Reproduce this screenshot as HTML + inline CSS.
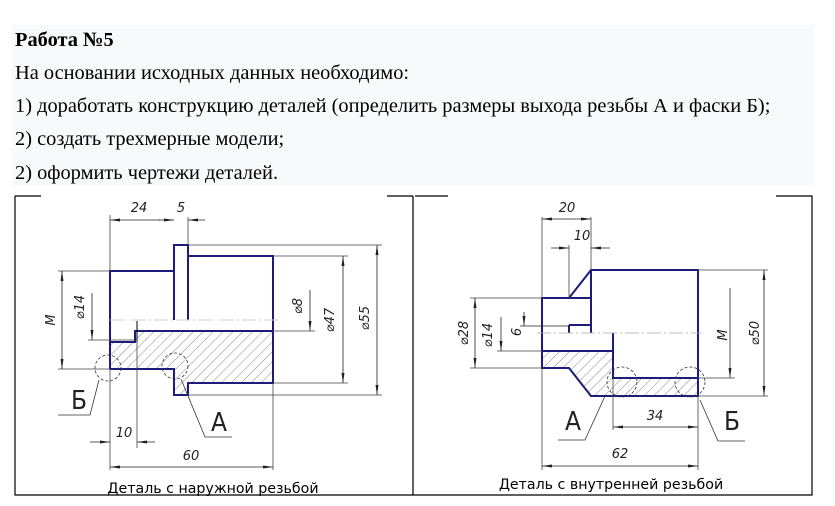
<!DOCTYPE html>
<html><head><meta charset="utf-8"><style>
html,body{margin:0;padding:0;background:#fff;width:835px;height:506px;overflow:hidden}
svg{display:block}
</style></head><body>
<svg width="835" height="506" viewBox="0 0 835 506" xmlns="http://www.w3.org/2000/svg">
<defs>
<pattern id="h" patternUnits="userSpaceOnUse" width="7" height="7" patternTransform="rotate(45)">
<line x1="0" y1="0" x2="0" y2="7" stroke="#555" stroke-width="0.7"/></pattern>
<marker id="a" viewBox="0 0 10 6" refX="10" refY="3" markerWidth="10" markerHeight="6" orient="auto-start-reverse" markerUnits="userSpaceOnUse"><path d="M0,1.5 L10,3 L0,4.5z" fill="#222"/></marker>
</defs>
<rect x="12" y="25" width="802" height="161" fill="#f8f9fb"/>
<g font-family="Liberation Serif, serif" font-size="20.4" fill="#000">
<text x="15" y="46" font-weight="bold">Работа №5</text>
<text x="15" y="79">На основании исходных данных необходимо:</text>
<text x="15" y="112">1) доработать конструкцию деталей (определить размеры выхода резьбы А и фаски Б);</text>
<text x="15" y="145">2) создать трехмерные модели;</text>
<text x="15" y="179">2) оформить чертежи деталей.</text>
</g>
<!-- frames -->
<g stroke="#000" stroke-width="1.2" fill="none">
<path d="M15,196 H41 M15,196 V495 H812 V196 H776 M413,196 V495 M387,196 H413"/>
<path d="M415,196 H448"/>
</g>
<!-- LEFT DRAWING -->
<path d="M110,342 H135 V331 H273 V383 H188 V395 H174 V369 H110z" fill="url(#h)"/>
<g stroke="#1c1c7a" stroke-width="2" fill="none">
<path d="M110,369 V271 H174 V245 H188 V256 H273 V383 H188 V395 H174 V369 H110"/>
<path d="M174,271 V320 M188,256 V320"/>
<path d="M110,342 H135 V331 H273"/>
</g>
<line x1="137" y1="321" x2="137" y2="342" stroke="#000" stroke-width="1"/>
<line x1="110" y1="320" x2="280" y2="320" stroke="#ccc" stroke-width="1" stroke-dasharray="14,3,2,3"/>
<g stroke="#444" stroke-width="0.8" fill="none">
<path d="M110,215 V271 M188,217 V245 M110,369 V470 M137,342 V448 M273,383 V470"/>
<path d="M58,271 H110 M58,369 H110 M88,340 H135 M273,331 H315 M273,256 H348 M273,383 H348 M188,245 H382 M188,395 H382"/>
</g>
<g stroke="#222" stroke-width="0.8" fill="none">
<line x1="110" y1="220" x2="160" y2="220" marker-start="url(#a)"/>
<line x1="158" y1="220" x2="174" y2="220" marker-end="url(#a)"/>
<line x1="188" y1="220" x2="205" y2="220" marker-start="url(#a)"/>
<line x1="62" y1="271" x2="62" y2="369" marker-start="url(#a)" marker-end="url(#a)"/>
<line x1="92" y1="293" x2="92" y2="340" marker-end="url(#a)"/>
<line x1="310" y1="290" x2="310" y2="331" marker-end="url(#a)"/>
<line x1="343" y1="256" x2="343" y2="383" marker-start="url(#a)" marker-end="url(#a)"/>
<line x1="377" y1="245" x2="377" y2="395" marker-start="url(#a)" marker-end="url(#a)"/>
<line x1="90" y1="442" x2="110" y2="442" marker-end="url(#a)"/>
<line x1="137" y1="442" x2="155" y2="442" marker-start="url(#a)"/>
<line x1="110" y1="467" x2="273" y2="467" marker-start="url(#a)" marker-end="url(#a)"/>
</g>
<g stroke="#333" stroke-width="0.8" fill="none" stroke-dasharray="3,2">
<circle cx="108" cy="368" r="13"/><circle cx="175" cy="366" r="13"/>
</g>
<g stroke="#333" stroke-width="0.8" fill="none">
<path d="M99,380 L90,415 H58 M181,379 L205,437 H232"/>
</g>
<g font-family="DejaVu Sans, sans-serif" font-style="italic" font-size="13" fill="#222" text-anchor="middle">
<text x="139" y="212">24</text><text x="181" y="212">5</text>
<text x="124" y="437">10</text><text x="191" y="460">60</text>
<text transform="translate(55,320) rotate(-90)">М</text>
<text transform="translate(84,307) rotate(-90)">⌀14</text>
<text transform="translate(302,306) rotate(-90)">⌀8</text>
<text transform="translate(334,320) rotate(-90)">⌀47</text>
<text transform="translate(369,318) rotate(-90)">⌀55</text>
</g>
<g font-family="DejaVu Sans Condensed, DejaVu Sans, sans-serif" font-size="26" fill="#222" text-anchor="middle">
<text x="79" y="409">Б</text><text x="219" y="431">А</text>
<text x="573" y="430">А</text><text x="732" y="430">Б</text>
</g>
<text x="213" y="493" font-family="DejaVu Sans, sans-serif" font-size="14.2" fill="#000" text-anchor="middle">Деталь с наружной резьбой</text>
<!-- RIGHT DRAWING -->
<path d="M542,351 H613 V378 H698 V396 H591 L569,368 H542z" fill="url(#h)"/>
<g stroke="#1c1c7a" stroke-width="2" fill="none">
<path d="M542,298 H569 L591,270 H698 V396 H591 L569,368 H542z"/>
<path d="M569,298 H591 M591,270 V333 M569,325 V333 M569,325 H591"/>
<path d="M542,351 H613 V378 H698 M613,333 V351"/>
</g>
<line x1="537" y1="333" x2="702" y2="333" stroke="#aaa" stroke-width="0.8" stroke-dasharray="14,3,2,3"/>
<line x1="520" y1="326" x2="569" y2="326" stroke="#222" stroke-width="0.8"/>
<g stroke="#444" stroke-width="0.8" fill="none">
<path d="M542,217 V298 M591,217 V270 M569,245 V298 M542,368 V470 M698,396 V470 M613,378 V430"/>
<path d="M470,298 H542 M470,368 H542 M497,351 H542 M698,378 H735 M698,270 H768 M698,396 H768"/>
</g>
<g stroke="#222" stroke-width="0.8" fill="none">
<line x1="542" y1="219" x2="591" y2="219" marker-start="url(#a)" marker-end="url(#a)"/>
<line x1="551" y1="248" x2="569" y2="248" marker-end="url(#a)"/>
<line x1="591" y1="248" x2="610" y2="248" marker-start="url(#a)"/>
<line x1="475" y1="298" x2="475" y2="368" marker-start="url(#a)" marker-end="url(#a)"/>
<line x1="501" y1="317" x2="501" y2="351" marker-end="url(#a)"/>
<line x1="524" y1="312" x2="524" y2="326" marker-end="url(#a)"/>
<line x1="730" y1="288" x2="730" y2="378" marker-end="url(#a)"/>
<line x1="764" y1="270" x2="764" y2="396" marker-start="url(#a)" marker-end="url(#a)"/>
<line x1="613" y1="427" x2="698" y2="427" marker-start="url(#a)" marker-end="url(#a)"/>
<line x1="542" y1="466" x2="698" y2="466" marker-start="url(#a)" marker-end="url(#a)"/>
</g>
<g stroke="#333" stroke-width="0.8" fill="none" stroke-dasharray="3,2">
<circle cx="622" cy="382" r="15"/><circle cx="690" cy="382" r="15"/>
</g>
<g stroke="#333" stroke-width="0.8" fill="none">
<path d="M605,396 L585,440 H558 M700,400 L718,441 H745"/>
</g>
<g font-family="DejaVu Sans, sans-serif" font-style="italic" font-size="13" fill="#222" text-anchor="middle">
<text x="567" y="212">20</text><text x="582" y="240">10</text>
<text x="655" y="420">34</text><text x="620" y="458">62</text>
<text transform="translate(468,333) rotate(-90)">⌀28</text>
<text transform="translate(492,335) rotate(-90)">⌀14</text>
<text transform="translate(521,332) rotate(-90)">6</text>
<text transform="translate(727,335) rotate(-90)">М</text>
<text transform="translate(759,333) rotate(-90)">⌀50</text>
</g>
<text x="611" y="489" font-family="DejaVu Sans, sans-serif" font-size="14.2" fill="#000" text-anchor="middle">Деталь с внутренней резьбой</text>
</svg>
</body></html>
